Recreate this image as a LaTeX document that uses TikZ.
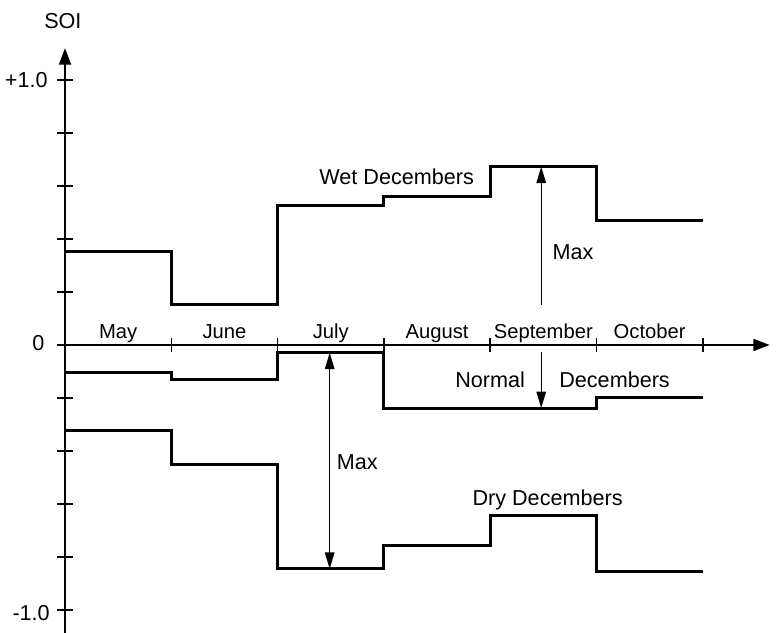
\documentclass[tikz,border=0pt]{standalone}
\usepackage{fontspec}
\setmainfont{Liberation Sans}
\usetikzlibrary{arrows.meta}
\tikzset{
    axis/.style = {line width=1.1pt},
    axistip/.style = {-{Triangle[length=3.3mm, width=2.4mm]}},
    tickmark/.style = {line width=0.9pt},
    curve/.style = {line width=1.7pt, line join=miter},
    maxarrow/.style = {line width=0.8pt, >={Triangle[length=3.3mm, width=1.9mm]}},
    lbl/.style = {anchor=base, inner sep=0pt, font=\fontsize{12.3}{14}\selectfont},
    ticklbl/.style = {lbl, anchor=base east},
    month/.style = {anchor=base, inner sep=0pt, font=\fontsize{11.5}{13}\selectfont}
}

\begin{document}
\begin{tikzpicture}[x=2.126cm, y=5.3cm]
    \useasboundingbox (-0.6115,-1.0868) rectangle (6.717,1.3019);

    % axes
    \coordinate (xstart) at (-0.066,0);
    \coordinate (xend) at (6.63,0);
    \coordinate (ybot) at (0,-1.0868);
    \coordinate (ytop) at (0,1.12);
    \draw[axis, axistip] (xstart) -- (xend);
    \draw[axis, axistip] (ybot) -- (ytop);

    \foreach \k in {1,...,6}
        \draw[tickmark] (\k,-0.026) -- (\k,0.026);
    \foreach \k in {-5,...,5}
        \draw[tickmark] (-0.075,\k/5) -- (0.075,\k/5);

    \node[lbl] (soi) at (-0.02,1.195) {SOI};
    \node[ticklbl] (ptop) at (-0.16,0.972) {+1.0};
    \node[ticklbl] (pzero) at (-0.19,-0.019) {0};
    \node[ticklbl] (pbot) at (-0.14,-1.038) {-1.0};

    \foreach \m [count=\i from 0] in {May,June,July,August,September,October}
        \node[month] (m\i) at (\i+0.5,0.025) {\m};

    % wet decembers
    \draw[curve] (0,0.352) -- (1,0.352) -- (1,0.151) -- (2,0.151) -- (2,0.525)
        -- (3,0.525) -- (3,0.56) -- (4,0.56) -- (4,0.673) -- (5,0.673)
        -- (5,0.469) -- (6,0.469);
    % normal decembers
    \draw[curve] (0,-0.105) -- (1,-0.105) -- (1,-0.132) -- (2,-0.132) -- (2,-0.029)
        -- (3,-0.029) -- (3,-0.238) -- (5,-0.238) -- (5,-0.199) -- (6,-0.199);
    % dry decembers
    \draw[curve] (0,-0.323) -- (1,-0.323) -- (1,-0.45) -- (2,-0.45) -- (2,-0.845)
        -- (3,-0.845) -- (3,-0.755) -- (4,-0.755) -- (4,-0.644) -- (5,-0.644)
        -- (5,-0.855) -- (6,-0.855);

    % max arrows
    \coordinate (wetlow) at (4.48,0.15);
    \coordinate (wethigh) at (4.48,0.673);
    \coordinate (normtop) at (4.48,-0.025);
    \coordinate (normbot) at (4.48,-0.238);
    \coordinate (drytop) at (2.49,-0.029);
    \coordinate (drybot) at (2.49,-0.845);
    \draw[maxarrow, ->] (wetlow) -- (wethigh);
    \draw[maxarrow, ->] (normtop) -- (normbot);
    \draw[maxarrow, <->] (drytop) -- (drybot);

    \node[lbl] (wetlbl) at (3.12,0.604) {Wet Decembers};
    \node[lbl] (wetmax) at (4.78,0.323) {Max};
    \node[lbl] (normlbl) at (4.0,-0.160) {Normal};
    \node[lbl] (normdec) at (5.17,-0.160) {Decembers};
    \node[lbl] (drymax) at (2.75,-0.468) {Max};
    \node[lbl] (drylbl) at (4.54,-0.604) {Dry Decembers};
\end{tikzpicture}
\end{document}
